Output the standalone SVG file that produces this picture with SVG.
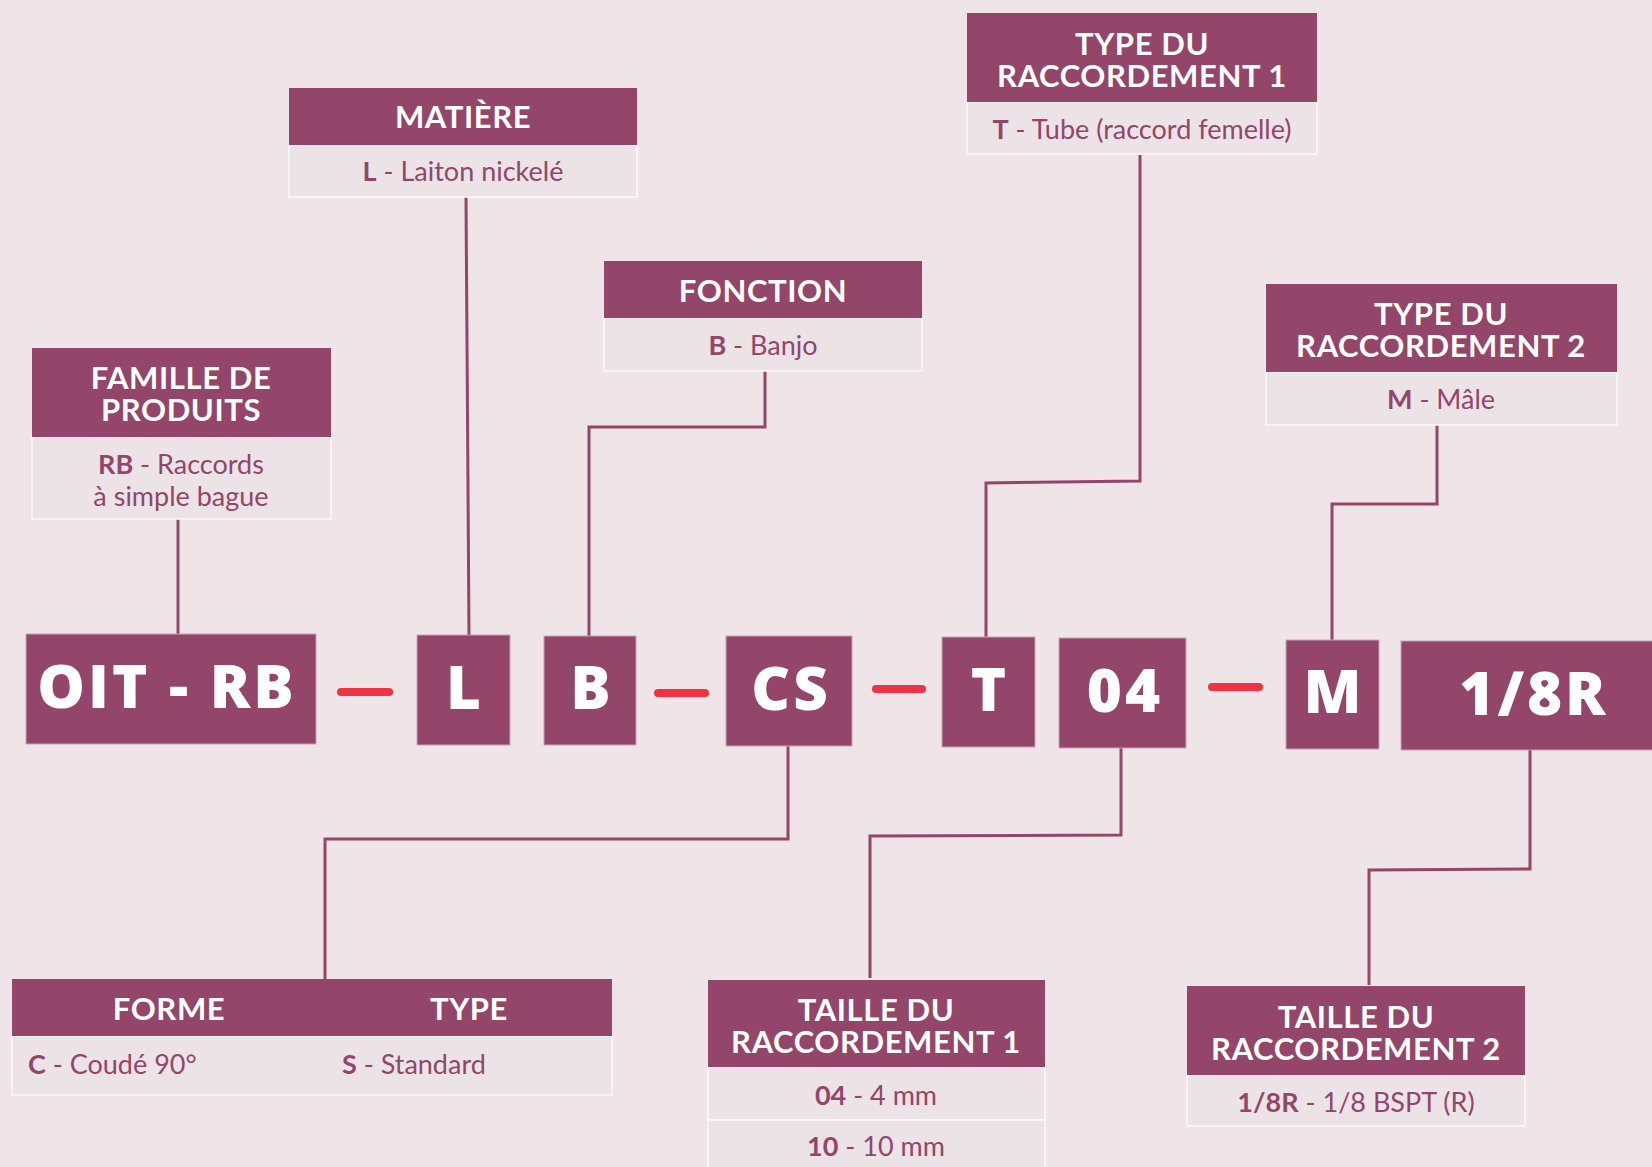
<svg xmlns="http://www.w3.org/2000/svg" width="1652" height="1167" viewBox="0 0 1652 1167">
<style>
.hd{fill:#934669}
.bd{fill:#ebe3e6;stroke:#fbf8f9;stroke-width:1.5}
.ht{font-family:Lato,"Open Sans",sans-serif;font-weight:700;font-size:31px;fill:#fff;text-anchor:middle;letter-spacing:0.6px}
.bt{font-family:Lato,"Open Sans",sans-serif;font-size:27px;fill:#934669;text-anchor:middle}
.bt tspan.b{font-weight:700}
.code{fill:#934669;stroke:#c9a3b6;stroke-width:1}
.ct{font-family:"Open Sans",sans-serif;font-weight:800;font-size:60px;fill:#fff;text-anchor:middle;letter-spacing:3px}
.dash{stroke:#ee3442;stroke-width:8;stroke-linecap:round}
.ln{fill:none;stroke:#934669;stroke-width:3}
</style>
<rect width="1652" height="1167" fill="#efe5e9"/>

<g id="connectors">
<path class="ln" d="M178,519 V634"/>
<path class="ln" d="M466,197 L469,635"/>
<path class="ln" d="M765,371 V427 H589 V636"/>
<path class="ln" d="M1140,155 V481 L986,483 V637"/>
<path class="ln" d="M1437,425 V504 H1332 V640"/>
<path class="ln" d="M788,746 V839 H325 V979"/>
<path class="ln" d="M1121,748 V835 L870,836 V978"/>
<path class="ln" d="M1530,750 V869 L1369,870 V985"/>
</g>

<g id="dashes">
<line class="dash" x1="341" y1="692" x2="389" y2="692"/>
<line class="dash" x1="658" y1="693" x2="705" y2="693"/>
<line class="dash" x1="876" y1="689" x2="922" y2="689"/>
<line class="dash" x1="1212" y1="687" x2="1259" y2="687"/>
</g>

<g id="code-oit-rb"><rect class="code" x="26" y="634" width="290" height="110"/><text class="ct" x="167" y="708">OIT - RB</text></g>
<g id="code-l"><rect class="code" x="417" y="635" width="93" height="110"/><text class="ct" x="465" y="709">L</text></g>
<g id="code-b"><rect class="code" x="544" y="636" width="92" height="109"/><text class="ct" x="592" y="709">B</text></g>
<g id="code-cs"><rect class="code" x="726" y="636" width="126" height="110"/><text class="ct" x="791" y="710">CS</text></g>
<g id="code-t"><rect class="code" x="942" y="637" width="93" height="110"/><text class="ct" x="990" y="711">T</text></g>
<g id="code-04"><rect class="code" x="1059" y="638" width="127" height="110"/><text class="ct" x="1125" y="712">04</text></g>
<g id="code-m"><rect class="code" x="1286" y="640" width="93" height="109"/><text class="ct" x="1334" y="713">M</text></g>
<g id="code-18r"><rect class="code" x="1401" y="641" width="260" height="109"/><text class="ct" x="1534" y="715">1/8R</text></g>

<g id="famille">
<rect class="bd" x="32" y="437" width="299" height="82"/>
<rect class="hd" x="32" y="348" width="299" height="89"/>
<text class="ht" x="181" y="389">FAMILLE DE<tspan x="181" dy="32">PRODUITS</tspan></text>
<text class="bt" x="181" y="474"><tspan class="b">RB</tspan> - Raccords<tspan x="181" dy="32">à simple bague</tspan></text>
</g>

<g id="matiere">
<rect class="bd" x="289" y="145" width="348" height="52"/>
<rect class="hd" x="289" y="88" width="348" height="57"/>
<text class="ht" x="463" y="128">MATIÈRE</text>
<text class="bt" x="463" y="181"><tspan class="b">L</tspan> - Laiton nickelé</text>
</g>

<g id="fonction">
<rect class="bd" x="604" y="318" width="318" height="53"/>
<rect class="hd" x="604" y="261" width="318" height="57"/>
<text class="ht" x="763" y="302">FONCTION</text>
<text class="bt" x="763" y="355"><tspan class="b">B</tspan> - Banjo</text>
</g>

<g id="type1">
<rect class="bd" x="967" y="102" width="350" height="52"/>
<rect class="hd" x="967" y="13" width="350" height="89"/>
<text class="ht" x="1142" y="55">TYPE DU<tspan x="1142" dy="32">RACCORDEMENT 1</tspan></text>
<text class="bt" x="1142" y="139"><tspan class="b">T</tspan> - Tube (raccord femelle)</text>
</g>

<g id="type2">
<rect class="bd" x="1266" y="372" width="351" height="53"/>
<rect class="hd" x="1266" y="284" width="351" height="88"/>
<text class="ht" x="1441" y="325">TYPE DU<tspan x="1441" dy="32">RACCORDEMENT 2</tspan></text>
<text class="bt" x="1441" y="409"><tspan class="b">M</tspan> - Mâle</text>
</g>

<g id="forme-type">
<rect class="bd" x="12" y="1036" width="600" height="59"/>
<rect class="hd" x="12" y="979" width="600" height="57"/>
<text class="ht" x="169" y="1020">FORME</text>
<text class="ht" x="469" y="1020">TYPE</text>
<text class="bt" x="28" y="1074" style="text-anchor:start"><tspan class="b">C</tspan> - Coudé 90°</text>
<text class="bt" x="342" y="1074" style="text-anchor:start"><tspan class="b">S</tspan> - Standard</text>
</g>

<g id="taille1">
<rect class="bd" x="708" y="1067" width="337" height="53"/>
<rect class="bd" x="708" y="1120" width="337" height="55"/>
<rect class="hd" x="708" y="980" width="337" height="87"/>
<text class="ht" x="876" y="1021">TAILLE DU<tspan x="876" dy="32">RACCORDEMENT 1</tspan></text>
<text class="bt" x="876" y="1105"><tspan class="b">04</tspan> - 4 mm</text>
<text class="bt" x="876" y="1156"><tspan class="b">10</tspan> - 10 mm</text>
</g>

<g id="taille2">
<rect class="bd" x="1187" y="1075" width="338" height="51"/>
<rect class="hd" x="1187" y="986" width="338" height="89"/>
<text class="ht" x="1356" y="1028">TAILLE DU<tspan x="1356" dy="32">RACCORDEMENT 2</tspan></text>
<text class="bt" x="1356" y="1112"><tspan class="b">1/8R</tspan> - 1/8 BSPT (R)</text>
</g>
</svg>
